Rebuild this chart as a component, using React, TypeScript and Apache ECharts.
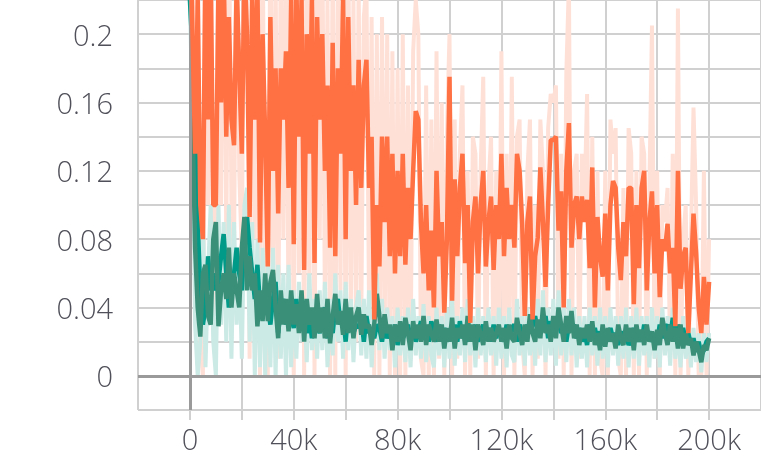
import React, { useEffect, useRef } from "react";
import * as echarts from "echarts";

// step spacing of the logged points (training steps)
const STEP = 1000;

// dark orange run (smoothed), one value per 1k steps, 0..200k
const orangeRun = [
  0.28, 0.2, 0.13, 0.22, 0.1, 0.08, 0.25, 0.15, 0.24, 0.1,
  0.1, 0.23, 0.16, 0.24, 0.14, 0.21, 0.15, 0.135, 0.23, 0.18,
  0.13, 0.24, 0.2, 0.093, 0.22, 0.15, 0.23, 0.078, 0.2, 0.14,
  0.064, 0.21, 0.12, 0.18, 0.095, 0.18, 0.15, 0.19, 0.11, 0.22,
  0.077, 0.23, 0.14, 0.22, 0.062, 0.2, 0.13, 0.22, 0.066, 0.21,
  0.15, 0.2, 0.12, 0.17, 0.075, 0.195, 0.07, 0.18, 0.13, 0.22,
  0.08, 0.21, 0.12, 0.17, 0.1, 0.185, 0.11, 0.17, 0.185, 0.11,
  0.14, 0.033, 0.1, 0.064, 0.14, 0.09, 0.14, 0.07, 0.13, 0.06,
  0.12, 0.07, 0.13, 0.065, 0.11, 0.08, 0.12, 0.155, 0.15, 0.09,
  0.06, 0.1, 0.05, 0.085, 0.04, 0.12, 0.07, 0.09, 0.037, 0.08,
  0.175, 0.044, 0.115, 0.07, 0.11, 0.13, 0.066, 0.1, 0.031, 0.09,
  0.105, 0.06, 0.1, 0.12, 0.064, 0.09, 0.105, 0.062, 0.1, 0.08,
  0.13, 0.07, 0.11, 0.08, 0.1, 0.075, 0.13, 0.12, 0.089, 0.035,
  0.09, 0.105, 0.033, 0.07, 0.081, 0.122, 0.09, 0.052, 0.1, 0.138,
  0.138, 0.14, 0.085, 0.108, 0.04, 0.12, 0.148, 0.075, 0.1, 0.105,
  0.08, 0.105, 0.09, 0.103, 0.063, 0.122, 0.04, 0.093, 0.07, 0.058,
  0.095, 0.05, 0.1, 0.114, 0.11, 0.075, 0.056, 0.09, 0.07, 0.11,
  0.11, 0.042, 0.1, 0.063, 0.11, 0.12, 0.05, 0.09, 0.108, 0.06,
  0.1, 0.046, 0.08, 0.073, 0.089, 0.06, 0.075, 0.029, 0.12, 0.051,
  0.07, 0.075, 0.025, 0.06, 0.095, 0.072, 0.04, 0.025, 0.058, 0.03,
  0.055,
];

// light orange run (raw)
const orangeRaw = [
  0.3, 0.25, 0.05, 0.3, 0.02, 0.0, 0.3, 0.1, 0.3, 0.03,
  0.02, 0.3, 0.1, 0.3, 0.08, 0.28, 0.1, 0.07, 0.3, 0.12,
  0.07, 0.3, 0.25, 0.01, 0.28, 0.08, 0.3, 0.0, 0.26, 0.06,
  0.0, 0.27, 0.05, 0.24, 0.01, 0.25, 0.08, 0.26, 0.03, 0.28,
  0.0, 0.3, 0.06, 0.28, 0.0, 0.26, 0.05, 0.28, 0.0, 0.27,
  0.08, 0.26, 0.04, 0.22, 0.0, 0.25, 0.0, 0.24, 0.05, 0.27,
  0.0, 0.26, 0.04, 0.22, 0.02, 0.23, 0.03, 0.21, 0.23, 0.04,
  0.21, 0.0, 0.2, 0.0, 0.21, 0.02, 0.2, 0.0, 0.19, 0.0,
  0.18, 0.0, 0.2, 0.0, 0.17, 0.01, 0.19, 0.22, 0.2, 0.01,
  0.0, 0.17, 0.0, 0.15, 0.0, 0.19, 0.01, 0.16, 0.0, 0.14,
  0.2, 0.0, 0.15, 0.01, 0.13, 0.17, 0.0, 0.12, 0.0, 0.14,
  0.13, 0.01, 0.12, 0.175, 0.0, 0.11, 0.14, 0.0, 0.12, 0.02,
  0.19, 0.0, 0.13, 0.02, 0.175, 0.0, 0.14, 0.15, 0.02, 0.0,
  0.12, 0.15, 0.0, 0.1, 0.01, 0.15, 0.12, 0.0, 0.145, 0.165,
  0.16, 0.17, 0.01, 0.13, 0.0, 0.177, 0.23, 0.0, 0.12, 0.13,
  0.01, 0.13, 0.1, 0.165, 0.0, 0.14, 0.0, 0.12, 0.01, 0.0,
  0.12, 0.0, 0.15, 0.13, 0.145, 0.01, 0.0, 0.11, 0.0, 0.145,
  0.13, 0.0, 0.12, 0.0, 0.14, 0.13, 0.0, 0.11, 0.205, 0.01,
  0.12, 0.0, 0.1, 0.09, 0.11, 0.01, 0.13, 0.0, 0.215, 0.0,
  0.08, 0.1, 0.0, 0.08, 0.157, 0.1, 0.0, 0.0, 0.12, 0.0,
  0.08,
];

// muted teal run (smoothed)
const tealRunA = [
  0.3, 0.15, 0.075, 0.04, 0.023, 0.06, 0.065, 0.035, 0.03, 0.08,
  0.09, 0.029, 0.05, 0.06, 0.045, 0.075, 0.04, 0.06, 0.05, 0.04,
  0.075, 0.093, 0.05, 0.07, 0.05, 0.06, 0.029, 0.05, 0.032, 0.06,
  0.032, 0.055, 0.062, 0.04, 0.022, 0.05, 0.03, 0.045, 0.026, 0.05,
  0.03, 0.042, 0.025, 0.05, 0.02, 0.045, 0.03, 0.04, 0.022, 0.048,
  0.025, 0.04, 0.022, 0.045, 0.019, 0.035, 0.048, 0.03, 0.038, 0.024,
  0.045, 0.025, 0.04, 0.022, 0.035, 0.04, 0.024, 0.036, 0.028, 0.03,
  0.018, 0.03, 0.048, 0.035, 0.022, 0.036, 0.025, 0.03, 0.015, 0.03,
  0.02, 0.032, 0.018, 0.034, 0.025, 0.015, 0.032, 0.022, 0.03, 0.02,
  0.035, 0.018, 0.03, 0.025, 0.02, 0.033, 0.02, 0.03, 0.016, 0.028,
  0.02, 0.034, 0.016, 0.028, 0.022, 0.03, 0.018, 0.035, 0.02, 0.03,
  0.015, 0.03, 0.025, 0.018, 0.032, 0.02, 0.028, 0.02, 0.025, 0.03,
  0.02, 0.028, 0.016, 0.03, 0.022, 0.02, 0.034, 0.025, 0.018, 0.03,
  0.02, 0.036, 0.025, 0.02, 0.033, 0.022, 0.04, 0.025, 0.03, 0.02,
  0.035, 0.022, 0.04, 0.03, 0.02, 0.035, 0.025, 0.038, 0.022, 0.03,
  0.018, 0.028, 0.022, 0.03, 0.02, 0.032, 0.018, 0.025, 0.015, 0.03,
  0.017, 0.028, 0.02, 0.025, 0.016, 0.03, 0.022, 0.018, 0.03, 0.02,
  0.028, 0.015, 0.03, 0.02, 0.027, 0.018, 0.03, 0.02, 0.026, 0.015,
  0.027, 0.018, 0.034, 0.025, 0.018, 0.03, 0.02, 0.028, 0.016, 0.03,
  0.016, 0.025, 0.018, 0.022, 0.012, 0.02, 0.015, 0.008, 0.018, 0.015,
  0.022,
];

// bright teal run (smoothed)
const tealRunB = [
  0.22, 0.19, 0.14, 0.09, 0.05, 0.03, 0.04, 0.07, 0.05, 0.06,
  0.05, 0.055, 0.07, 0.083, 0.06, 0.04, 0.05, 0.06, 0.075, 0.06,
  0.05, 0.08, 0.093, 0.075, 0.06, 0.045, 0.065, 0.04, 0.035, 0.05,
  0.04, 0.03, 0.045, 0.055, 0.025, 0.04, 0.045, 0.03, 0.04, 0.035,
  0.028, 0.045, 0.03, 0.035, 0.04, 0.025, 0.035, 0.022, 0.035, 0.03,
  0.025, 0.035, 0.04, 0.022, 0.03, 0.025, 0.04, 0.045, 0.03, 0.036,
  0.02, 0.038, 0.03, 0.025, 0.03, 0.028, 0.035, 0.02, 0.035, 0.025,
  0.028, 0.022, 0.03, 0.028, 0.02, 0.03, 0.022, 0.026, 0.022, 0.03,
  0.018, 0.028, 0.022, 0.025, 0.03, 0.02, 0.028, 0.02, 0.025, 0.032,
  0.022, 0.028, 0.02, 0.032, 0.025, 0.02, 0.03, 0.022, 0.028, 0.02,
  0.026, 0.022, 0.03, 0.02, 0.032, 0.022, 0.026, 0.02, 0.028, 0.022,
  0.03, 0.02, 0.025, 0.03, 0.022, 0.028, 0.02, 0.03, 0.022, 0.028,
  0.025, 0.02, 0.03, 0.022, 0.028, 0.03, 0.02, 0.03, 0.025, 0.022,
  0.03, 0.025, 0.03, 0.035, 0.025, 0.03, 0.028, 0.035, 0.022, 0.032,
  0.025, 0.03, 0.032, 0.025, 0.03, 0.02, 0.03, 0.028, 0.03, 0.022,
  0.028, 0.02, 0.026, 0.018, 0.03, 0.022, 0.028, 0.02, 0.026, 0.018,
  0.025, 0.02, 0.028, 0.022, 0.025, 0.018, 0.026, 0.02, 0.025, 0.018,
  0.022, 0.028, 0.02, 0.025, 0.02, 0.03, 0.022, 0.026, 0.02, 0.025,
  0.02, 0.03, 0.022, 0.028, 0.03, 0.022, 0.034, 0.025, 0.03, 0.02,
  0.028, 0.02, 0.025, 0.018, 0.022, 0.014, 0.02, 0.012, 0.015, 0.02,
  0.022,
];

// light teal run (raw)
const tealRaw = [
  0.22, 0.15, 0.03, 0.0, 0.02, 0.1, 0.005, 0.06, 0.1, 0.02,
  0.0, 0.1, 0.03, 0.09, 0.02, 0.1, 0.01, 0.09, 0.03, 0.07,
  0.01, 0.1, 0.11, 0.02, 0.09, 0.0, 0.08, 0.005, 0.075, 0.0,
  0.07, 0.005, 0.075, 0.0, 0.065, 0.01, 0.06, 0.0, 0.065, 0.005,
  0.05, 0.01, 0.055, 0.02, 0.045, 0.008, 0.06, 0.015, 0.045, 0.01,
  0.05, 0.015, 0.055, 0.005, 0.045, 0.012, 0.06, 0.02, 0.05, 0.01,
  0.055, 0.015, 0.045, 0.008, 0.04, 0.05, 0.012, 0.045, 0.01, 0.05,
  0.005, 0.04, 0.06, 0.015, 0.045, 0.01, 0.04, 0.015, 0.035, 0.005,
  0.04, 0.012, 0.035, 0.008, 0.04, 0.005, 0.045, 0.012, 0.035, 0.01,
  0.042, 0.008, 0.035, 0.012, 0.005, 0.04, 0.012, 0.035, 0.005, 0.04,
  0.01, 0.045, 0.006, 0.035, 0.012, 0.04, 0.008, 0.045, 0.012, 0.035,
  0.005, 0.04, 0.012, 0.035, 0.008, 0.04, 0.012, 0.035, 0.006, 0.04,
  0.01, 0.035, 0.005, 0.04, 0.012, 0.008, 0.045, 0.012, 0.035, 0.006,
  0.04, 0.012, 0.035, 0.006, 0.045, 0.012, 0.05, 0.008, 0.04, 0.012,
  0.045, 0.006, 0.05, 0.012, 0.04, 0.008, 0.045, 0.012, 0.04, 0.005,
  0.035, 0.01, 0.035, 0.005, 0.04, 0.012, 0.035, 0.006, 0.04, 0.01,
  0.035, 0.005, 0.04, 0.012, 0.035, 0.006, 0.035, 0.01, 0.04, 0.005,
  0.035, 0.01, 0.04, 0.006, 0.035, 0.012, 0.035, 0.005, 0.04, 0.01,
  0.035, 0.005, 0.04, 0.012, 0.035, 0.006, 0.04, 0.01, 0.03, 0.005,
  0.035, 0.01, 0.03, 0.005, 0.028, 0.008, 0.025, 0.002, 0.025, 0.008,
  0.025,
];

const toPairs = (vals: number[]) => vals.map((v, i) => [i * STEP, v]);

const TEXT = "#50505a";
const GRID = "#d0d0d0";
const FONT = "'Open Sans'";

export default function App() {
  const ref = useRef<HTMLDivElement>(null);
  useEffect(() => {
    if (!ref.current) return;
    const chart = echarts.init(ref.current, null, { renderer: "svg" });
    const lineBase = {
      type: "line",
      showSymbol: false,
      symbol: "none",
      silent: true,
      clip: true,
    };
    chart.setOption({
      animation: false,
      grid: { left: 138, right: -1, top: -1, bottom: 51, containLabel: false },
      xAxis: {
        type: "value",
        min: -20000,
        max: 220000,
        interval: 20000,
        axisLine: { show: false, onZero: false },
        axisTick: { show: true, length: 10, lineStyle: { color: GRID, width: 2 } },
        splitLine: { show: true, lineStyle: { color: GRID, width: 2 } },
        axisLabel: {
          margin: 14,
          color: TEXT,
          fontSize: 29,
          fontFamily: FONT,
          fontWeight: 300,
          showMinLabel: false,
          showMaxLabel: false,
          formatter: (v: number) =>
            v % 40000 === 0 ? (v === 0 ? "0" : v / 1000 + "k") : "",
        },
      },
      yAxis: {
        type: "value",
        min: -0.02,
        max: 0.22,
        interval: 0.02,
        axisLine: { show: false },
        axisTick: { show: true, length: 11, lineStyle: { color: GRID, width: 2 } },
        splitLine: { show: true, lineStyle: { color: GRID, width: 2 } },
        axisLabel: {
          margin: 25,
          color: TEXT,
          fontSize: 29,
          fontFamily: FONT,
          fontWeight: 300,
          showMinLabel: false,
          showMaxLabel: false,
          formatter: (v: number) => {
            const c = Math.round(v * 100);
            if (c % 4 !== 0 || c < 0) return "";
            return c === 0 ? "0" : String(parseFloat(v.toFixed(2)));
          },
        },
      },
      series: [
        {
          ...lineBase,
          name: "orange raw",
          z: 1,
          data: toPairs(orangeRaw),
          lineStyle: { color: "#ffe0d7", width: 4 },
          markLine: {
            silent: true,
            symbol: "none",
            label: { show: false },
            lineStyle: { color: "#9a9a9a", width: 3, type: "solid" },
            data: [{ yAxis: 0 }, { xAxis: 0 }],
          },
        },
        {
          ...lineBase,
          name: "teal raw",
          z: 2,
          data: toPairs(tealRaw),
          lineStyle: { color: "#cbe9e5", width: 4 },
        },
        {
          ...lineBase,
          name: "teal b",
          z: 3,
          data: toPairs(tealRunB),
          lineStyle: { color: "#009a88", width: 4.5 },
        },
        {
          ...lineBase,
          name: "teal a",
          z: 4,
          data: toPairs(tealRunA),
          lineStyle: { color: "#3a8f78", width: 4.5 },
        },
        {
          ...lineBase,
          name: "orange",
          z: 5,
          data: toPairs(orangeRun),
          lineStyle: { color: "#ff7043", width: 4.5 },
        },
      ],
    });
    return () => chart.dispose();
  }, []);
  return (
    <div
      ref={ref}
      style={{ position: "fixed", left: 0, top: 0, width: 761, height: 461 }}
    />
  );
}
